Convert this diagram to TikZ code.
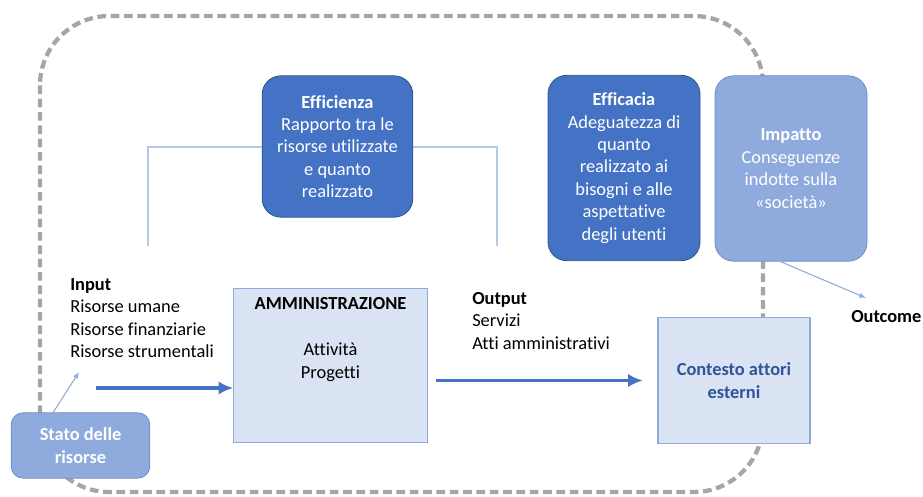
\documentclass[tikz,border=0pt]{standalone}
\usepackage{fontspec}
\setmainfont{Carlito}[Ligatures=NoCommon]
\usetikzlibrary{arrows.meta}
\usetikzlibrary{positioning}

\begin{document}
\fontsize{13.8}{16.8}\selectfont
\begin{tikzpicture}[x=0.75pt,y=-0.75pt,
    darkbox/.style={draw=darkline,fill=darkblue,text=white,rounded corners=14pt,align=center,line width=0.6pt},
    impbox/.style={draw=midline,fill=midblue,text=white,rounded corners=14pt,align=center,line width=0.6pt},
    statobox/.style={draw=midline,fill=midblue,text=white,rounded corners=9pt,align=center,line width=0.6pt},
    palebox/.style={draw=midblue,fill=paleblue,align=center,line width=0.8pt},
    frame/.style={draw=framegrey,line width=3.2pt,dash pattern=on 6.5pt off 3.5pt},
    bracket/.style={draw=bracketblue,line width=0.9pt},
    thickarrow/.style={draw=darkblue,line width=2.6pt,-{Latex[length=11pt,width=10pt]}},
    thinarrow/.style={draw=midblue,line width=0.8pt,-{Latex[length=5pt,width=4pt]}},
    plaintext/.style={inner sep=0pt,align=left}]

		    \definecolor{darkblue}{RGB}{68,114,196}
		    \definecolor{darkline}{RGB}{47,82,143}
		    \definecolor{midblue}{RGB}{143,170,220}
		    \definecolor{midline}{RGB}{110,140,196}
		    \definecolor{paleblue}{RGB}{218,227,243}
		    \definecolor{bracketblue}{RGB}{180,199,231}
		    \definecolor{framegrey}{RGB}{166,166,166}
		    \definecolor{contblue}{RGB}{47,85,151}

		    \useasboundingbox (0,0) rectangle (923,496);

		    % dashed frame, the boxes sit on it
		    \draw[frame,rounded corners=52pt] (40,16) rectangle (763,492);

		    \coordinate (brl) at (148,246);
		    \coordinate (brr) at (497,246);
		    \draw[bracket] (brl) |- (337.5,147) -| (brr);

		    \node(eff) [darkbox,minimum width=113pt,minimum height=106pt] at (337.5,146.5) {\textbf{Efficienza}\\Rapporto tra le\\risorse utilizzate\\e quanto\\realizzato};
		    \node(effc) [darkbox,minimum width=114pt,minimum height=139pt] at (624,168) {\textbf{Efficacia}\\Adeguatezza di\\quanto\\realizzato ai\\bisogni e alle\\aspettative\\degli utenti};
		    \node(imp) [impbox,minimum width=114pt,minimum height=139pt] at (791,168.5) {\textbf{Impatto}\\Conseguenze\\indotte sulla\\«società»};

		    \node(outc) [plaintext,anchor=west] at (851,317) {\textbf{Outcome}};
		    \coordinate (outtip) at (866,298);
		    \draw[thinarrow] ([xshift=-8pt]imp.south) -- (outtip);

		    \node(inp) [plaintext,anchor=north west] at (70,278) {\textbf{Input}\\Risorse umane\\Risorse finanziarie\\Risorse strumentali};
		    \node(outp) [plaintext,anchor=north west] at (472,292) {\textbf{Output}\\Servizi\\Atti amministrativi};

		    \node(amm) [palebox,minimum width=145pt,minimum height=116pt] at (330.5,365.5) {};
		    \node(ammtitle) [below=7pt of amm.north,inner sep=0pt] {\textbf{AMMINISTRAZIONE}};
		    \node(ammtext) [below=25pt of ammtitle,inner sep=0pt,align=center] {Attività\\Progetti};

		    \node(cont) [palebox,minimum width=114pt,minimum height=94pt,text=contblue] at (734,380.5) {\textbf{Contesto attori}\\\textbf{esterni}};

		    \node(stato) [statobox,minimum width=104pt,minimum height=49pt] at (80.5,445.5) {\textbf{Stato delle}\\\textbf{risorse}};
		    \coordinate (inptip) at (79,372);
		    \draw[thinarrow] ([xshift=-20.5pt]stato.north) -- (inptip);

		    \coordinate (inpstart) at (96,388);
		    \draw[thickarrow] (inpstart) -- (inpstart -| amm.west);
		    \draw[thickarrow,shorten <=6pt,shorten >=11pt] (amm.east |- cont.west) -- (cont.west);

\end{tikzpicture}
\end{document}
